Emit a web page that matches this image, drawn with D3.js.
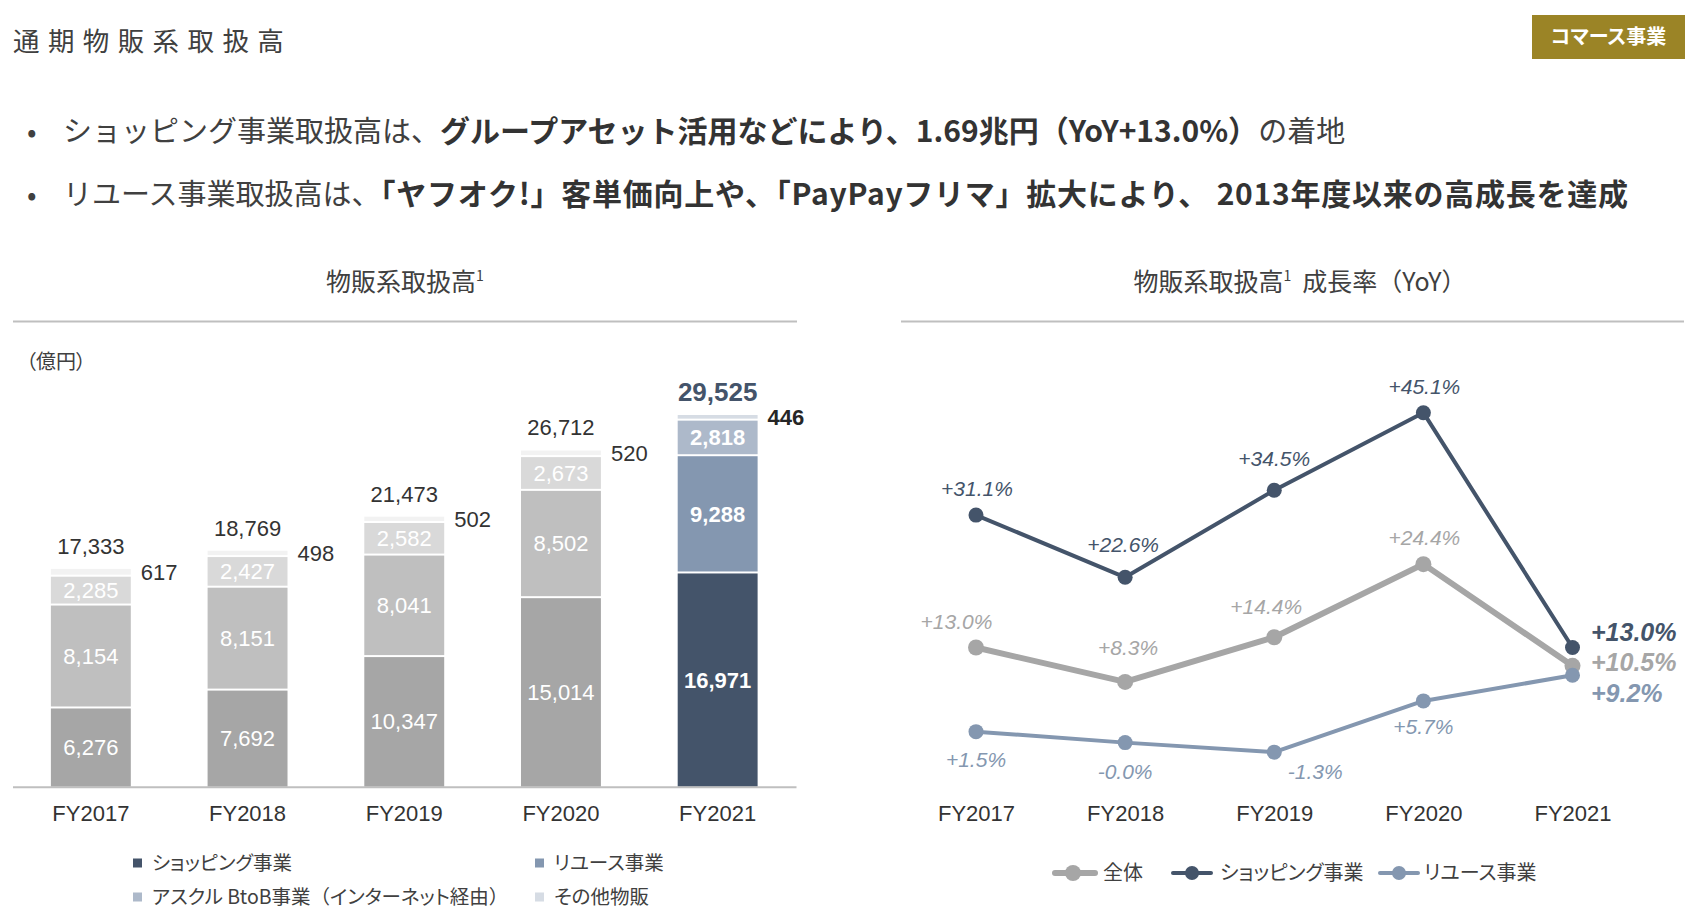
<!DOCTYPE html>
<html><head><meta charset="utf-8">
<script src="https://cdn.jsdelivr.net/npm/d3@7/dist/d3.min.js"></script>
<style>
html,body{margin:0;padding:0;background:#fff;}
svg{display:block;}
.jp{font-family:"Noto Sans CJK JP","Noto Sans",sans-serif;font-feature-settings:"palt";}
.jpf{font-family:"Noto Sans CJK JP","Noto Sans",sans-serif;font-feature-settings:normal;}
.num{font-family:"Liberation Sans",Arial,sans-serif;}
</style></head>
<body>
<svg id="chart" width="1707" height="919"></svg>
<script>
// ---------- data ----------
const categories = ["FY2017","FY2018","FY2019","FY2020","FY2021"];
const shopping = [6276, 7692, 10347, 15014, 16971];
const reuse    = [8154, 8151, 8041, 8502, 9288];
const askul    = [2285, 2427, 2582, 2673, 2818];
const others   = [617, 498, 502, 520, 446];
const totals   = [17333, 18769, 21473, 26712, 29525];

const growthTotal    = [13.0, 8.3, 14.4, 24.4, 10.5];
const growthShopping = [31.1, 22.6, 34.5, 45.1, 13.0];
const growthReuse    = [1.5, -0.0, -1.3, 5.7, 9.2];

const seriesNames = ["ショッピング事業","リユース事業","アスクル BtoB事業（インターネット経由）","その他物販"];
const lineNames = ["全体","ショッピング事業","リユース事業"];

// ---------- styles ----------
const grayCols = ["#a6a6a6","#bfbfbf","#d9d9d9","#f2f2f2"];
const blueCols = ["#44546a","#8497b0","#adb9ca","#d6dce4"];
const txt = "#404040";

const svg = d3.select("#chart");

// header
svg.append("text").attr("class","jpf").attr("x",13).attr("y",51)
  .attr("font-size",26.5).attr("fill",txt).attr("letter-spacing",8.4).text("通期物販系取扱高");

svg.append("rect").attr("x",1532).attr("y",15).attr("width",153).attr("height",44).attr("fill","#9b8426");
svg.append("text").attr("class","jp").attr("x",1608.5).attr("y",44).attr("text-anchor","middle")
  .attr("font-size",20).attr("font-weight",700).attr("fill","#fff").text("コマース事業");

const bullets = [
  [{t:"ショッピング事業取扱高は、",b:false},{t:"グループアセット活用などにより、1.69兆円（YoY+13.0%）",b:true},{t:"の着地",b:false}],
  [{t:"リユース事業取扱高は、",b:false},{t:"「ヤフオク!」客単価向上や、「PayPayフリマ」拡大により、 2013年度以来の高成長を達成",b:true}]
];
const bulletY = [132, 195];
const boldSpacing = [0, 0.75];
bullets.forEach((segs,i)=>{
  svg.append("text").attr("class","jpf").attr("x",27).attr("y",bulletY[i]+10).attr("font-size",28).attr("fill",txt).text("•");
  const t = svg.append("text").attr("class","jpf").attr("x",63).attr("y",bulletY[i]+10)
    .attr("font-size",29).attr("fill",txt);
  segs.forEach(s=>{
    const ts = t.append("tspan").attr("font-weight",s.b?700:400).attr("fill",s.b?"#333":txt).text(s.t);
    if(s.b) ts.attr("font-size",30).attr("letter-spacing",boldSpacing[i]);
  });
});

// chart titles + rules
function title(x, parts){
  const t = svg.append("text").attr("class","jpf").attr("x",x).attr("y",291).attr("text-anchor","middle")
    .attr("font-size",25).attr("fill",txt);
  parts.forEach(p=>{
    const s = t.append("tspan").text(p.t);
    if(p.sup) s.attr("font-size",14).attr("baseline-shift","super");
  });
}
title(405, [{t:"物販系取扱高"},{t:"1",sup:true}]);
title(1300, [{t:"物販系取扱高"},{t:"1",sup:true},{t:"\u00a0\u00a0成長率（YoY）"}]);
svg.append("line").attr("x1",13).attr("x2",797).attr("y1",321.5).attr("y2",321.5).attr("stroke","#bfbfbf").attr("stroke-width",2);
svg.append("line").attr("x1",901).attr("x2",1684).attr("y1",321.5).attr("y2",321.5).attr("stroke","#bfbfbf").attr("stroke-width",2);

// ---------- bar chart ----------
const base = 786.7;
const x = d3.scaleBand().domain(categories).range([12.5,796]).paddingInner(0.49).paddingOuter(0.245);
const y = d3.scaleLinear().domain([0,30000]).range([base, base-378.7]);

svg.append("text").attr("class","jp").attr("x",26).attr("y",369).attr("font-size",20).attr("fill",txt).text("（億円）");

const stackSeries = [shopping, reuse, askul, others];
categories.forEach((c,i)=>{
  let cum = 0;
  const isLast = i === categories.length-1;
  stackSeries.forEach((arr,k)=>{
    const v = arr[i];
    const y0 = y(cum), y1 = y(cum+v);
    const top = y1 + 1, bot = k===0 ? y0 : y0 - 1;
    svg.append("rect").attr("x",x(c)).attr("y",top).attr("width",x.bandwidth()).attr("height",Math.max(0,bot-top))
      .attr("fill",(isLast?blueCols:grayCols)[k]);
    if(k<3){
      svg.append("text").attr("class","num").attr("x",x(c)+x.bandwidth()/2).attr("y",(y0+y1)/2).attr("dy","0.36em")
        .attr("text-anchor","middle").attr("font-size",22).attr("fill","#fff")
        .attr("font-weight",isLast?700:400).text(d3.format(",")(v));
    } else {
      svg.append("text").attr("class","num").attr("x",x(c)+x.bandwidth()+10).attr("y",(y0+y1)/2).attr("dy","0.36em")
        .attr("font-size",22).attr("fill",isLast?"#262626":"#333").attr("font-weight",isLast?700:400)
        .text(d3.format(",")(v));
    }
    cum += v;
  });
  svg.append("text").attr("class","num").attr("x",x(c)+x.bandwidth()/2).attr("y",y(cum)-22).attr("dy","0.36em")
    .attr("text-anchor","middle").attr("font-size",isLast?26:22).attr("font-weight",isLast?700:400)
    .attr("fill",isLast?"#44546a":"#333").text(d3.format(",")(totals[i]));
});

const ax = svg.append("g").attr("transform",`translate(0,${base})`)
  .call(d3.axisBottom(x).tickSize(0).tickPadding(18.5));
ax.select(".domain").attr("stroke","#bfbfbf").attr("stroke-width",2);
ax.selectAll("text").attr("class","num").attr("font-size",22).attr("fill","#333");

// bar legend
const legPos = [[133,863],[535,863],[133,897],[535,897]];
seriesNames.forEach((n,k)=>{
  const [lx,ly] = legPos[k];
  svg.append("rect").attr("x",lx).attr("y",ly-4.5).attr("width",9).attr("height",9).attr("fill",blueCols[k]);
  const t = svg.append("text").attr("class","jp").attr("x",lx+19).attr("y",ly).attr("dy","0.36em")
    .attr("font-size",19.5).attr("fill",txt);
  n.split(/([（）])/).filter(s=>s.length).forEach(s=>{
    t.append("tspan").attr("class",/[（）]/.test(s)?"jpf":null).text(s);
  });
});

// ---------- line chart ----------
const xp = d3.scalePoint().domain(categories).range([976,1572.5]);
const yp = d3.scaleLinear().domain([-5,50]).range([779.2, 376.85]);
const fmt = v => ((v<0||Object.is(v,-0))?"-":"+") + Math.abs(v).toFixed(1) + "%";

const lines = [
  {vals:growthTotal, col:"#a6a6a6", w:6, r:8,
   off:[[-19.5,-26],[3,-34],[-8,-30.6],[1,-26.4],[18.5,-3.6]]},
  {vals:growthReuse, col:"#8497b0", w:4, r:7.5,
   off:[[0,28],[0,29],[41,19.6],[0,26],[18.5,17.4]]},
  {vals:growthShopping, col:"#44546a", w:4, r:7.5,
   off:[[1,-27],[-2,-33],[0,-32],[1,-26],[18.5,-16]]}
];
const lineGen = d3.line().x((d,i)=>xp(categories[i])).y(d=>yp(d));
lines.forEach(L=>{
  svg.append("path").datum(L.vals).attr("d",lineGen).attr("fill","none")
    .attr("stroke",L.col).attr("stroke-width",L.w).attr("stroke-linejoin","round");
  L.vals.forEach((v,i)=>{
    svg.append("circle").attr("cx",xp(categories[i])).attr("cy",yp(v)).attr("r",L.r).attr("fill",L.col);
  });
});
lines.forEach(L=>{
  L.vals.forEach((v,i)=>{
    const last = i===L.vals.length-1;
    svg.append("text").attr("class","num")
      .attr("x",xp(categories[i])+L.off[i][0]).attr("y",yp(v)+L.off[i][1]).attr("dy","0.36em")
      .attr("text-anchor",last?"start":"middle").attr("font-style","italic")
      .attr("font-weight",last?700:400).attr("font-size",last?25:21)
      .attr("fill",L.col).text(fmt(v));
  });
});

const ax2 = svg.append("g").attr("transform",`translate(0,${base})`)
  .call(d3.axisBottom(xp).tickSize(0).tickPadding(18.5));
ax2.select(".domain").remove();
ax2.selectAll("text").attr("class","num").attr("font-size",22).attr("fill","#333");

// line legend
const lineLeg = [
  {x1:1055,x2:1095,cx:1073,tx:1103,col:"#a6a6a6",w:6,r:8},
  {x1:1173,x2:1211,cx:1192,tx:1220,col:"#44546a",w:4,r:7},
  {x1:1380,x2:1418,cx:1399,tx:1424,col:"#8497b0",w:4,r:7}
];
lineNames.forEach((n,k)=>{
  const L = lineLeg[k], ly = 873;
  svg.append("line").attr("x1",L.x1).attr("x2",L.x2).attr("y1",ly).attr("y2",ly).attr("stroke",L.col).attr("stroke-width",L.w).attr("stroke-linecap","round");
  svg.append("circle").attr("cx",L.cx).attr("cy",ly).attr("r",L.r).attr("fill",L.col);
  svg.append("text").attr("class","jp").attr("x",L.tx).attr("y",ly).attr("dy","0.36em")
    .attr("font-size",20).attr("fill",txt).text(n);
});
</script>
</body></html>
